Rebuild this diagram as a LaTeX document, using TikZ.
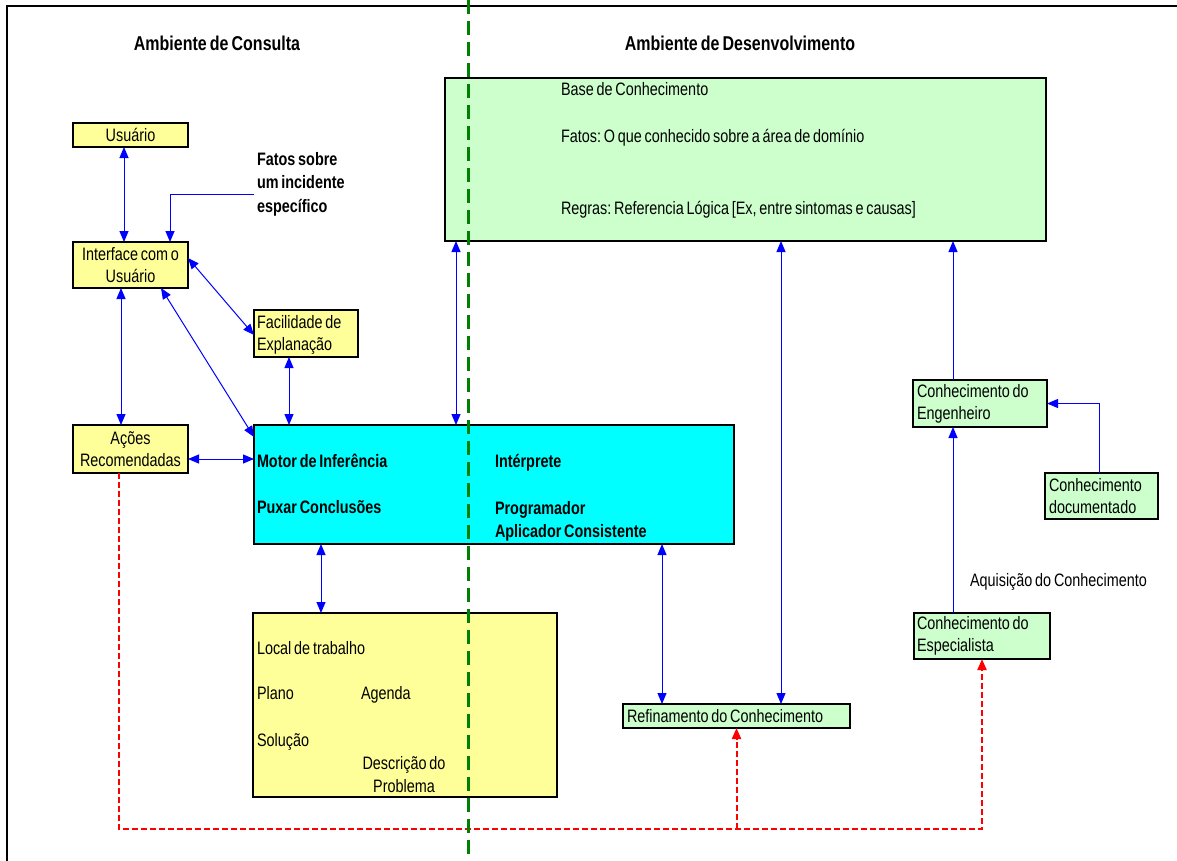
\documentclass[tikz,border=0pt]{standalone}
\usepackage{fontspec}
\setmainfont{Liberation Sans}[FakeStretch=0.8, WordSpace=0.7]
\usetikzlibrary{arrows.meta}
\definecolor{boxyellow}{HTML}{FFFF99}
\definecolor{boxgreen}{HTML}{CCFFCC}
\definecolor{boxcyan}{HTML}{00FFFF}
\definecolor{linkblue}{HTML}{0000FF}
\definecolor{flowred}{HTML}{FF0000}
\definecolor{divgreen}{HTML}{008000}
\frenchspacing
\begin{document}
\begin{tikzpicture}[x=1pt,y=-1pt,
  every node/.style={inner sep=0pt, outer sep=0pt},
  box/.style={draw=black, line width=2pt, anchor=north west,
    font=\fontsize{18}{22}\selectfont, align=center},
  ybox/.style={box, fill=boxyellow},
  gbox/.style={box, fill=boxgreen},
  intxt/.style={font=\fontsize{18}{22}\selectfont, align=left, anchor=west},
  lbl/.style={font=\fontsize{18}{23}\selectfont, anchor=base west},
  blbl/.style={font=\bfseries\fontsize{18}{23}\selectfont, anchor=base west},
  ttl/.style={font=\bfseries\fontsize{20}{24}\selectfont},
  link/.style={draw=linkblue, line width=1pt},
  twoway/.style={link, {Triangle[length=11pt,width=9pt]}-{Triangle[length=11pt,width=9pt]}},
  oneway/.style={link, -{Triangle[length=11pt,width=9pt]}},
  flow/.style={draw=flowred, line width=2pt, dash pattern=on 6pt off 3pt,
    -{Triangle[length=11pt,width=9pt]}},
]
\useasboundingbox (0,0) rectangle (1177,860);

% outer frame (top and left edges)
\draw[line width=2.5pt] (7,870) -- (7,6) -- (1190,6);

% section titles
\node[ttl] (tconsulta) at (217,43) {Ambiente de Consulta};
\node[ttl] (tdesenv) at (740,43) {Ambiente de Desenvolvimento};

% consultation side boxes
\node[ybox, minimum width=115pt, minimum height=24pt] (usuario) at (73,123) {Usuário};
\node[ybox, minimum width=115pt, minimum height=46pt] (interface) at (73,242) {Interface com o\\Usuário};
\node[ybox, minimum width=104pt, minimum height=47pt] (facil) at (254,310) {};
\node[intxt] (facilt) at ([xshift=3pt,yshift=-1pt]facil.west) {Facilidade de\\Explanação};
\node[ybox, minimum width=115pt, minimum height=48pt] (acoes) at (73,425) {Ações\\Recomendadas};

% inference engine
\node[box, fill=boxcyan, minimum width=480pt, minimum height=119pt] (motor) at (254,425) {};
\node[blbl] (mot1) at (257,467) {Motor de Inferência};
\node[blbl] (mot2) at (257,513) {Puxar Conclusões};
\node[blbl] (int1) at (495,467) {Intérprete};
\node[blbl] (int2) at (495,514) {Programador};
\node[blbl] (int3) at (495,537) {Aplicador Consistente};

% workspace
\node[ybox, minimum width=304pt, minimum height=184pt] (work) at (253,613) {};
\node[lbl] (w1) at (257,654) {Local de trabalho};
\node[lbl] (w2) at (257,699) {Plano};
\node[lbl] (w3) at (361,699) {Agenda};
\node[lbl] (w4) at (257,746) {Solução};
\node[lbl, anchor=base] (w5) at (404,769) {Descrição do};
\node[lbl, anchor=base] (w6) at (404,792) {Problema};

% knowledge base
\node[gbox, minimum width=601pt, minimum height=163pt] (base) at (445,78) {};
\node[lbl] (b1) at (561,95) {Base de Conhecimento};
\node[lbl] (b2) at (561,142) {Fatos: O que conhecido sobre a área de domínio};
\node[lbl] (b3) at (561,214) {Regras: Referencia Lógica [Ex, entre sintomas e causas]};

% development side boxes
\node[gbox, minimum width=227pt, minimum height=24pt] (refin) at (623,704) {};
\node[intxt] (refint) at ([xshift=4pt]refin.west) {Refinamento do Conhecimento};
\node[gbox, minimum width=134pt, minimum height=47pt] (eng) at (913,380) {};
\node[intxt] (engt) at ([xshift=4pt]eng.west) {Conhecimento do\\Engenheiro};
\node[gbox, minimum width=113pt, minimum height=46pt] (doc) at (1045,473) {};
\node[intxt] (doct) at ([xshift=4pt]doc.west) {Conhecimento\\documentado};
\node[gbox, minimum width=136pt, minimum height=46pt] (espec) at (914,613) {};
\node[intxt] (espect) at ([xshift=3pt]espec.west) {Conhecimento do\\Especialista};

% free labels
\node[font=\bfseries\fontsize{18}{23.5}\selectfont, align=left, anchor=west] (fatos) at (257,184) {Fatos sobre\\um incidente\\específico};
\node[lbl] (aquis) at (970,586) {Aquisição do Conhecimento};

% blue connectors
\draw[twoway] ([xshift=-6.5pt]usuario.south) -- ([xshift=-6.5pt]interface.north);
\draw[oneway] ([xshift=-3pt,yshift=-10pt]fatos.west) -| ([xshift=39.5pt]interface.north);
\draw[twoway] ([xshift=-9.5pt]interface.south) -- ([xshift=-9.5pt]acoes.north);
\draw[twoway] ([yshift=7pt]interface.east) -- ([yshift=-1.5pt]facil.west);
\draw[twoway] ([xshift=30.5pt]interface.south) -- ([yshift=47.5pt]motor.west);
\draw[twoway] ([xshift=-17pt]facil.south) -- ([xshift=-205pt]motor.north);
\draw[twoway] ([yshift=-10pt]acoes.east) -- ([yshift=25.5pt]motor.west);
\draw[twoway] ([xshift=-173pt]motor.south) -- ([xshift=-84pt]work.north);
\draw[twoway] ([xshift=-289.5pt]base.south) -- ([xshift=-38pt]motor.north);
\draw[twoway] ([xshift=168pt]motor.south) -- ([xshift=-74.5pt]refin.north);
\draw[twoway] ([xshift=35.5pt]base.south) -- ([xshift=44.5pt]refin.north);
\draw[oneway] ([xshift=-27pt]eng.north) -- ([xshift=207.5pt]base.south);
\draw[oneway] ([xshift=-29pt]espec.north) -- ([xshift=-27pt]eng.south);
\draw[oneway] ([xshift=-2.5pt]doc.north) |- (eng.east);

% red dashed feedback paths
\coordinate (redrow) at (0,829);
\draw[flow] ([xshift=-11.5pt]acoes.south) |- (redrow -| espec.south) -- (espec.south);
\draw[flow] (redrow -| refin.south) -- (refin.south);

% divider between the two environments
\draw[divgreen, line width=3pt, dash pattern=on 14pt off 7pt] (468,0) -- (468,860);
\end{tikzpicture}
\end{document}
